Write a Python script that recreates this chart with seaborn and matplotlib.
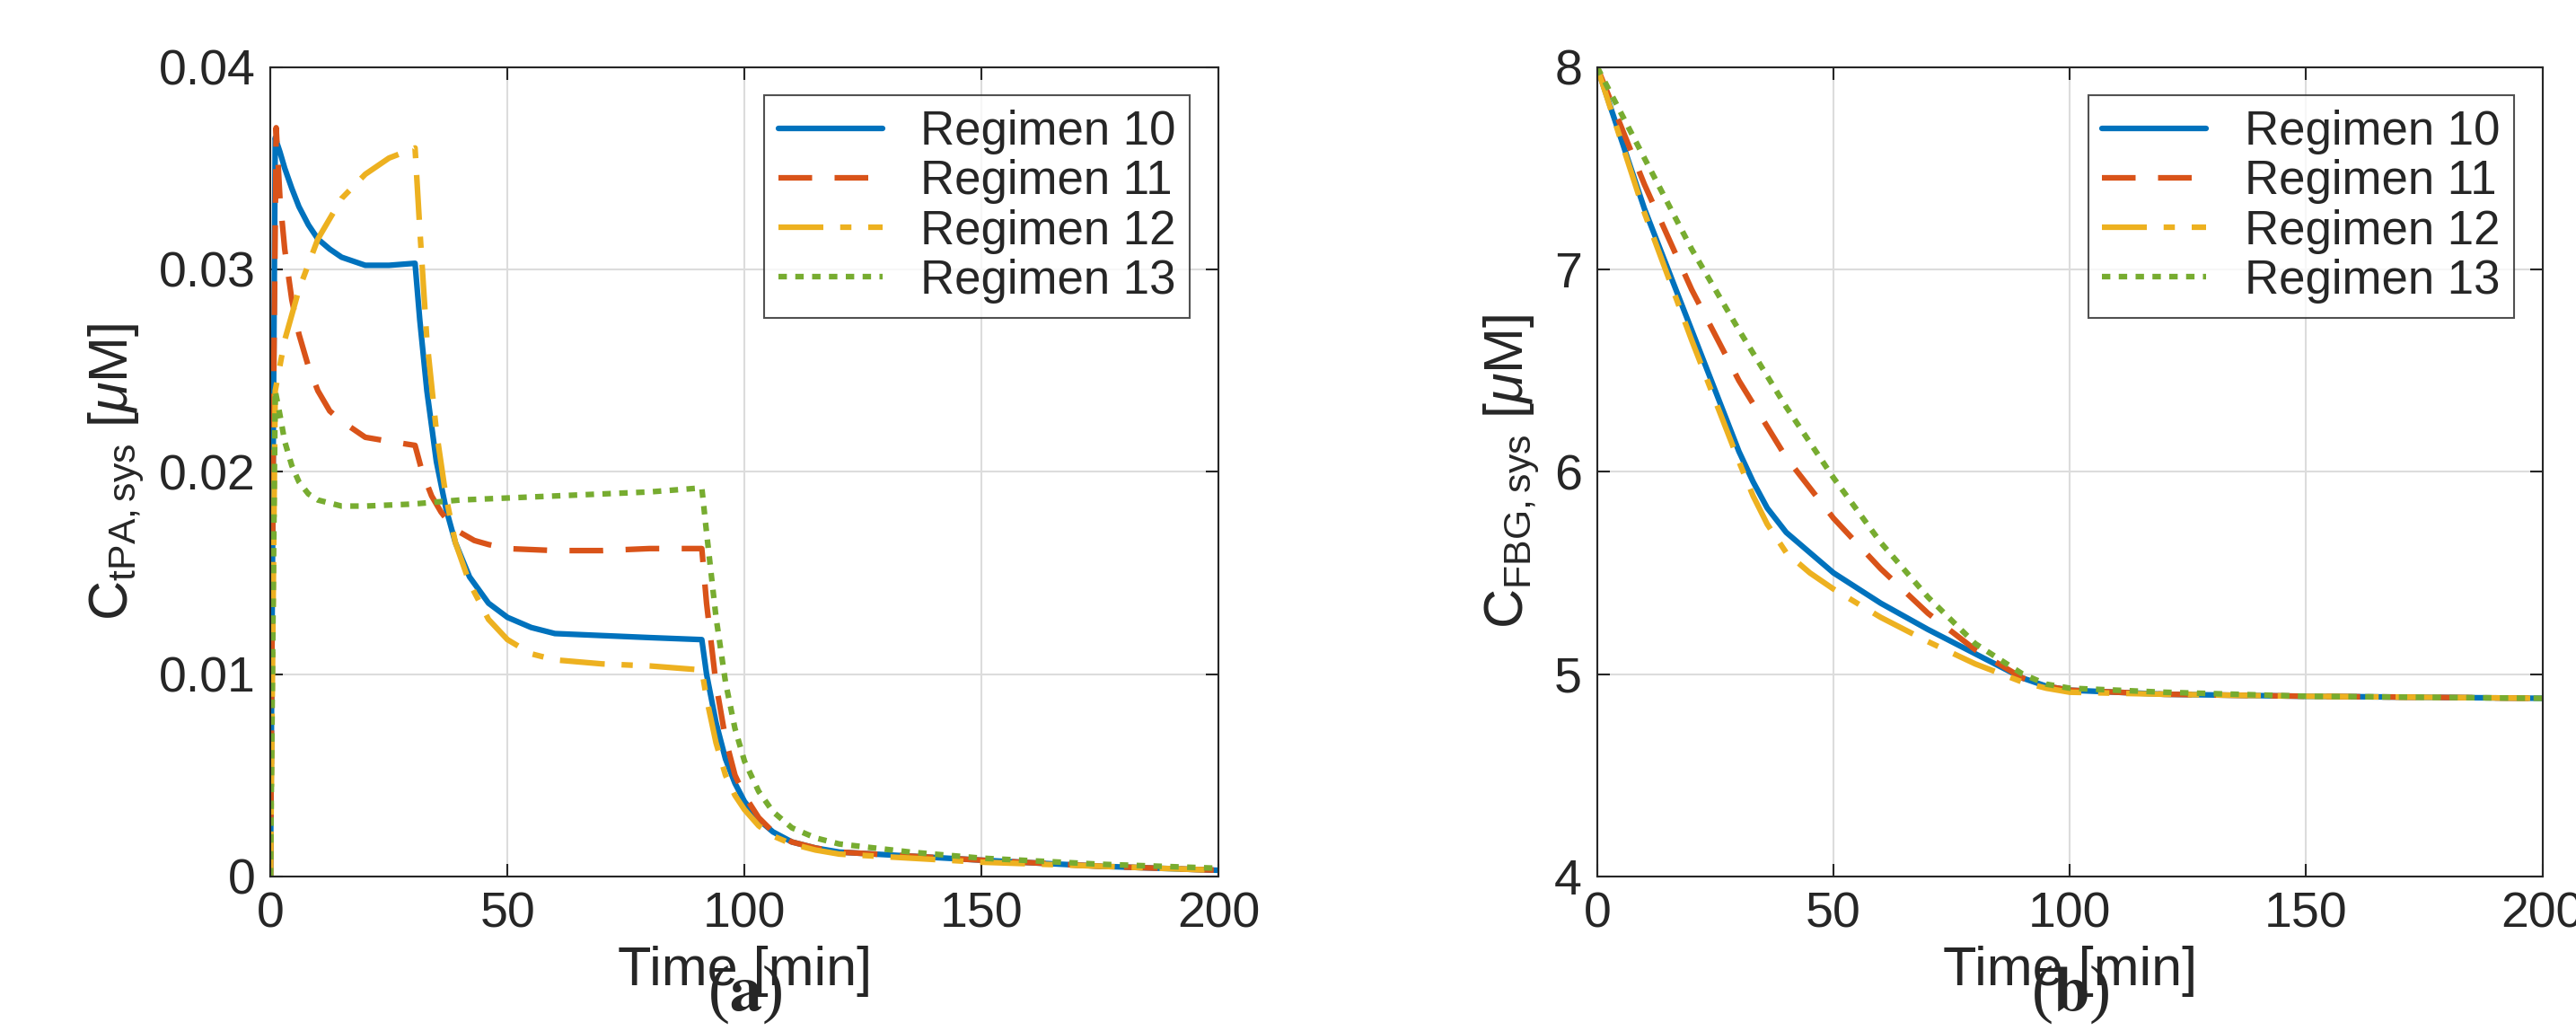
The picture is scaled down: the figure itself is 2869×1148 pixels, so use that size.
import numpy as np
import pandas as pd
import seaborn as sns
import matplotlib
matplotlib.use("Agg")
import matplotlib.pyplot as plt

sns.set_theme(style="white")
plt.rcParams['font.family'] = ['Liberation Sans', 'DejaVu Sans']
plt.rcParams['mathtext.fontset'] = 'custom'
plt.rcParams['mathtext.rm'] = 'Liberation Sans'
plt.rcParams['mathtext.it'] = 'Liberation Sans:italic'

names = ["Regimen 10", "Regimen 11", "Regimen 12", "Regimen 13"]
colors = ["#0072BD", "#D95319", "#EDB120", "#77AC30"]
styles = ["-", (0, (6, 4)), (0, (8, 3, 2, 3)), (0, (1.5, 1.5))]

# panel (a): tPA
t10 = [0, 1, 2, 3, 4.5, 6, 8, 10, 12.5, 15, 20, 25, 30.5, 31.5, 33, 35, 37, 39, 42, 46, 50, 55, 60, 70, 80, 91, 92, 94, 96, 98, 100, 103, 106, 110, 115, 120, 135, 150, 175, 200]
c10 = [0, 0.0365, 0.0358, 0.0350, 0.0340, 0.0331, 0.0322, 0.0315, 0.0310, 0.0306, 0.0302, 0.0302, 0.0303, 0.0275, 0.0240, 0.0205, 0.0182, 0.0165, 0.0148, 0.0135, 0.0128, 0.0123, 0.0120, 0.0119, 0.0118, 0.0117, 0.0100, 0.0076, 0.0058, 0.0046, 0.0037, 0.0028, 0.0022, 0.0017, 0.0014, 0.0012, 0.0010, 0.0008, 0.0005, 0.0003]
t11 = [0, 0.7, 1.2, 2, 3, 4.5, 6, 8, 10, 12.5, 15, 20, 25, 30.5, 32, 34, 36, 38, 40, 43, 46, 50, 60, 70, 80, 91, 92, 94, 96, 98, 100, 103, 106, 110, 115, 120, 135, 150, 175, 200]
c11 = [0, 0.0250, 0.0370, 0.0335, 0.0310, 0.0285, 0.0268, 0.0252, 0.0240, 0.0230, 0.0225, 0.0217, 0.0215, 0.0213, 0.0200, 0.0188, 0.0180, 0.0174, 0.0170, 0.0166, 0.0164, 0.0162, 0.0161, 0.0161, 0.0162, 0.0162, 0.0135, 0.0095, 0.0068, 0.0050, 0.0040, 0.0029, 0.0022, 0.0017, 0.0014, 0.0012, 0.0010, 0.0008, 0.0005, 0.0003]
t12 = [0, 1, 3, 6, 10, 15, 20, 25, 30.5, 31.5, 33, 35, 37, 39, 42, 46, 50, 55, 60, 70, 80, 91, 92, 94, 96, 98, 100, 103, 106, 110, 115, 120, 135, 150, 175, 200]
c12 = [0, 0.0240, 0.0265, 0.0290, 0.0315, 0.0335, 0.0347, 0.0355, 0.0360, 0.0320, 0.0265, 0.0220, 0.0188, 0.0165, 0.0145, 0.0127, 0.0117, 0.0110, 0.0107, 0.0105, 0.0104, 0.0102, 0.0088, 0.0066, 0.0050, 0.0040, 0.0033, 0.0025, 0.0020, 0.0016, 0.0013, 0.0011, 0.0009, 0.0007, 0.0005, 0.0003]
t13 = [0, 1, 2, 3, 4.5, 6, 8, 10, 15, 20, 30, 40, 50, 60, 70, 80, 91, 92, 94, 96, 98, 100, 103, 106, 110, 115, 120, 135, 150, 175, 200]
c13 = [0, 0.0240, 0.0228, 0.0215, 0.0203, 0.0195, 0.0189, 0.0186, 0.0183, 0.0183, 0.0184, 0.0186, 0.0187, 0.0188, 0.0189, 0.0190, 0.0192, 0.0170, 0.0128, 0.0096, 0.0073, 0.0057, 0.0042, 0.0032, 0.0024, 0.0019, 0.0016, 0.0012, 0.0009, 0.0006, 0.0004]

# panel (b): FBG
f10_t = [0, 10, 20, 30, 33, 36, 40, 45, 50, 60, 70, 80, 90, 95, 100, 120, 150, 200]
f10_c = [8.0, 7.3, 6.7, 6.1, 5.95, 5.82, 5.7, 5.6, 5.5, 5.35, 5.22, 5.1, 4.98, 4.94, 4.92, 4.90, 4.89, 4.88]
f11_t = [0, 10, 20, 30, 40, 50, 60, 70, 80, 90, 95, 100, 120, 150, 200]
f11_c = [8.0, 7.42, 6.9, 6.45, 6.07, 5.77, 5.52, 5.3, 5.12, 4.98, 4.94, 4.92, 4.90, 4.89, 4.88]
f12_t = [0, 10, 20, 30, 33, 36, 40, 45, 50, 60, 70, 80, 90, 95, 100, 120, 150, 200]
f12_c = [8.0, 7.28, 6.65, 6.05, 5.88, 5.74, 5.6, 5.5, 5.42, 5.28, 5.16, 5.05, 4.96, 4.93, 4.91, 4.90, 4.89, 4.88]
f13_t = [0, 10, 20, 30, 40, 50, 60, 70, 80, 90, 95, 100, 120, 150, 200]
f13_c = [8.0, 7.55, 7.1, 6.7, 6.32, 5.97, 5.65, 5.38, 5.15, 5.0, 4.95, 4.93, 4.91, 4.89, 4.88]

def long(ts, cs):
    rows = []
    for n, t, c in zip(names, ts, cs):
        rows.append(pd.DataFrame({"t": t, "c": c, "reg": n}))
    return pd.concat(rows)

dfa = long([t10, t11, t12, t13], [c10, c11, c12, c13])
dfb = long([f10_t, f11_t, f12_t, f13_t], [f10_c, f11_c, f12_c, f13_c])

fig = plt.figure(figsize=(28.69, 11.48), dpi=100)
axa = fig.add_axes([0.105, 0.15, 0.368, 0.785])
axb = fig.add_axes([0.62, 0.15, 0.367, 0.785])

for ax, df, ylab, ylim, yt, lab in [
    (axa, dfa, r"C$_{\mathrm{tPA,sys}}$ [$\mu$M]", (0, 0.04), [0, 0.01, 0.02, 0.03, 0.04], "a"),
    (axb, dfb, r"C$_{\mathrm{FBG,sys}}$ [$\mu$M]", (4, 8), [4, 5, 6, 7, 8], "b")]:
    for n, col, ls in zip(names, colors, styles):
        d = df[df.reg == n]
        sns.lineplot(data=d, x="t", y="c", ax=ax, color=col, linestyle=ls, lw=4.5, label=n, sort=False)
    ax.set_xlim(0, 200)
    ax.set_ylim(*ylim)
    ax.set_xticks([0, 50, 100, 150, 200])
    ax.set_yticks(yt)
    ax.set_yticklabels([f"{v:g}" for v in yt])
    ax.grid(True, color="#dcdcdc", lw=1.5)
    ax.tick_params(labelsize=40, direction="in", length=10, width=1.5, pad=12,
                   top=True, right=True, bottom=True, left=True)
    for s in ax.spines.values():
        s.set_color("#262626"); s.set_linewidth(1.5)
    ax.set_xlabel("Time [min]", fontsize=44, labelpad=6)
    ax.set_ylabel(ylab, fontsize=44, labelpad=10)
    leg = ax.legend(loc="upper right", fontsize=38, frameon=True, fancybox=False, edgecolor="#262626",
                    handlelength=2.2, borderpad=0.3, labelspacing=0.1, borderaxespad=0.6)
    leg.get_frame().set_linewidth(1.5)
    x0, x1 = ax.get_position().x0, ax.get_position().x1
    fig.text((x0 + x1) / 2, 0.005, "(" + r"$\mathbf{" + lab + "}$" + ")", ha="center", va="bottom",
             fontsize=52, family="Liberation Serif", math_fontfamily="stix")

fig.savefig("out.png", dpi=100, facecolor="white")
